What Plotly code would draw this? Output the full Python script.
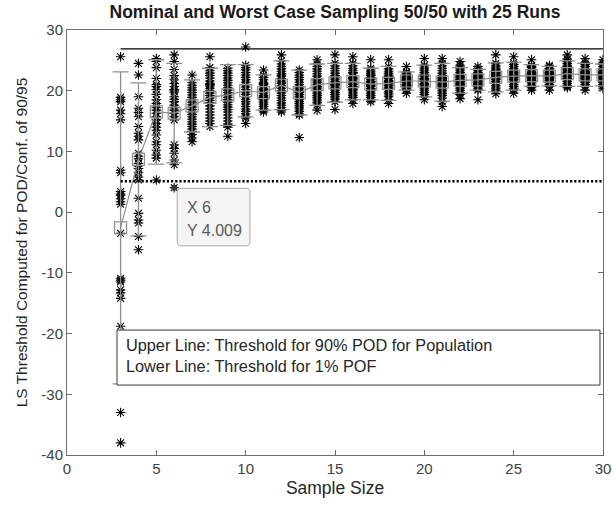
import plotly.graph_objects as go

# ---------------- data ----------------
sample_sizes = list(range(3, 31))

runs_n3 = [25.6, 18.9, 18.5, 18.2, 16.8, 16.2, 15.2, 6.9, 6.5, 3.4, 3.0, 2.8, 1.7, 1.3, -3.5,
           -10.9, -11.2, -11.5, -12.8, -13.3, -14.2, -18.8, -33.0, -38.0, 2.2]
runs_n4 = [24.5, 22.6, 19.0, 17.1, 15.7, 14.1, 13.0, 11.9, 9.7, 8.8, 8.0, 7.2, 6.5, 5.8, 5.3,
           2.3, -0.2, -1.3, -1.8, -4.0, -6.2, 7.6, 9.2, 12.5, 16.4]
runs_n5 = [25.3, 24.8, 21.0, 20.7, 20.2, 18.5, 17.9, 17.2, 16.3, 15.7, 15.2, 14.6, 13.5, 12.7,
           11.6, 11.1, 9.4, 8.9, 5.3, 19.4, 22.0, 23.8, 16.8, 14.0, 10.2]
runs_n6 = [25.9, 24.8, 21.8, 21.2, 20.7, 19.8, 19.0, 17.6, 16.8, 16.3, 15.7, 15.2, 11.1, 10.5,
           9.7, 8.6, 7.8, 4.009, 20.2, 18.2, 17.2, 22.5, 18.6, 20.0, 23.5]
runs_n7 = [22.6, 21.3, 20.9, 20.5, 20.1, 19.7, 19.3, 18.9, 18.5, 18.1, 17.7, 17.3, 16.9, 16.5,
           16.1, 15.7, 15.3, 14.9, 14.5, 14.1, 13.7, 13.3, 12.8, 11.6, 12.2]
runs_n8 = [25.6, 23.8, 23.3, 22.9, 22.5, 22.1, 21.6, 21.2, 20.8, 20.4, 20.0, 19.6, 19.2, 18.8,
           18.4, 18.0, 17.5, 17.0, 16.5, 16.0, 15.5, 15.0, 14.6, 14.1, 21.0]
runs_n9 = [23.7, 23.3, 22.9, 22.5, 22.1, 21.7, 21.3, 20.9, 20.5, 20.1, 19.7, 19.3, 18.9, 18.5,
           18.1, 17.7, 17.3, 16.9, 16.5, 16.0, 15.5, 15.0, 14.5, 14.0, 12.5]
runs_n10 = [27.2, 24.2, 23.8, 23.4, 23.0, 22.6, 22.2, 21.8, 21.4, 21.0, 20.6, 20.2, 19.8, 19.4,
            19.0, 18.6, 18.2, 17.8, 17.4, 17.0, 16.6, 16.2, 15.8, 15.5, 14.6]
runs_n11 = [23.4, 22.6, 22.2, 21.8, 21.4, 21.0, 20.7, 20.4, 20.1, 19.8, 19.5, 19.2, 18.9, 18.6,
            18.3, 18.0, 17.7, 17.4, 17.1, 16.8, 16.5, 19.0, 20.2, 21.2, 18.5]
runs_n12 = [25.9, 24.9, 24.4, 24.0, 23.6, 23.2, 22.8, 22.4, 22.0, 21.6, 21.2, 20.8, 20.4, 20.0,
            19.6, 19.2, 18.8, 18.4, 18.0, 17.6, 17.2, 16.8, 16.5, 21.4, 22.6]
runs_n13 = [23.4, 23.0, 22.6, 22.2, 21.8, 21.4, 21.0, 20.6, 20.3, 20.0, 19.7, 19.4, 19.1, 18.8,
            18.5, 18.2, 17.9, 17.6, 17.3, 17.0, 16.6, 16.2, 16.0, 12.3, 19.8]
runs_n14 = [25.1, 24.4, 24.0, 23.6, 23.2, 22.8, 22.4, 22.0, 21.6, 21.3, 21.0, 20.7, 20.4, 20.1,
            19.8, 19.5, 19.2, 18.9, 18.6, 18.3, 18.0, 17.6, 16.8, 21.8, 20.6]
runs_n15 = [25.9, 24.5, 24.1, 23.7, 23.3, 22.9, 22.5, 22.1, 21.8, 21.5, 21.2, 20.9, 20.6, 20.3,
            20.0, 19.7, 19.4, 19.1, 18.8, 18.5, 18.2, 16.9, 21.0, 22.3, 20.4]
runs_n16 = [25.6, 24.5, 24.1, 23.7, 23.3, 22.9, 22.5, 22.2, 21.9, 21.6, 21.3, 21.0, 20.7, 20.4,
            20.1, 19.8, 19.5, 19.2, 18.9, 18.5, 17.9, 22.0, 21.1, 20.2, 23.0]
runs_n17 = [25.1, 23.7, 23.4, 23.1, 22.8, 22.5, 22.2, 21.9, 21.6, 21.3, 21.0, 20.7, 20.4, 20.1,
            19.8, 19.5, 19.2, 18.9, 18.5, 18.2, 21.5, 22.0, 20.9, 20.3, 22.6]
runs_n18 = [25.1, 24.0, 23.6, 23.2, 22.9, 22.6, 22.3, 22.0, 21.7, 21.4, 21.1, 20.8, 20.5, 20.2,
            19.9, 19.6, 19.3, 19.0, 18.5, 17.9, 21.5, 20.9, 22.4, 21.2, 20.4]
runs_n19 = [24.0, 23.1, 22.9, 22.7, 22.5, 22.3, 22.1, 21.9, 21.7, 21.5, 21.3, 21.1, 20.9, 20.7,
            20.5, 20.3, 20.1, 19.6, 21.8, 22.0, 21.6, 21.4, 22.2, 21.0, 20.8]
runs_n20 = [25.3, 24.2, 23.9, 23.6, 23.3, 23.0, 22.7, 22.4, 22.1, 21.8, 21.5, 21.2, 20.9, 20.6,
            20.3, 20.0, 19.7, 19.4, 19.0, 18.5, 22.0, 21.6, 22.5, 21.0, 21.9]
runs_n21 = [25.3, 24.5, 24.1, 23.7, 23.3, 22.9, 22.5, 22.2, 21.9, 21.6, 21.3, 21.0, 20.7, 20.4,
            20.1, 19.8, 19.5, 19.2, 18.8, 18.2, 17.4, 21.7, 21.2, 22.0, 20.9]
runs_n22 = [24.8, 24.2, 23.9, 23.6, 23.3, 23.0, 22.7, 22.4, 22.1, 21.8, 21.5, 21.2, 20.9, 20.6,
            20.3, 20.0, 19.7, 19.4, 18.7, 21.9, 22.2, 21.4, 22.6, 21.0, 21.7]
runs_n23 = [24.0, 23.6, 23.3, 23.0, 22.7, 22.4, 22.1, 21.8, 21.5, 21.2, 20.9, 20.6, 20.3, 20.1,
            18.5, 22.0, 22.3, 21.9, 21.6, 22.5, 21.3, 22.8, 21.0, 20.7, 22.2]
runs_n24 = [25.9, 24.5, 24.2, 23.9, 23.6, 23.3, 23.0, 22.7, 22.4, 22.1, 21.8, 21.5, 21.2, 20.9,
            20.6, 20.3, 20.0, 19.5, 22.6, 23.1, 22.2, 22.9, 21.9, 23.4, 22.5]
runs_n25 = [25.6, 24.6, 24.3, 24.0, 23.7, 23.4, 23.1, 22.8, 22.5, 22.2, 21.9, 21.6, 21.3, 21.0,
            20.7, 20.4, 20.1, 19.6, 22.7, 23.0, 22.4, 23.3, 22.1, 21.8, 22.6]
runs_n26 = [25.1, 24.2, 24.0, 23.8, 23.5, 23.2, 22.9, 22.6, 22.3, 22.0, 21.7, 21.4, 21.1, 20.8,
            20.5, 20.1, 22.8, 22.5, 23.0, 22.2, 23.4, 21.9, 22.7, 21.6, 22.4]
runs_n27 = [24.2, 24.0, 23.7, 23.4, 23.1, 22.8, 22.5, 22.2, 21.9, 21.6, 21.3, 21.0, 20.7, 20.1,
            22.6, 22.3, 23.0, 22.9, 22.0, 23.3, 21.7, 22.4, 22.7, 21.4, 23.6]
runs_n28 = [25.9, 25.2, 24.8, 24.5, 24.2, 23.9, 23.6, 23.3, 23.0, 22.7, 22.4, 22.1, 21.8, 21.5,
            21.2, 20.9, 20.7, 20.5, 22.9, 23.2, 22.6, 23.5, 22.3, 24.0, 22.0]
runs_n29 = [25.3, 24.6, 24.3, 24.0, 23.7, 23.4, 23.1, 22.8, 22.5, 22.2, 21.9, 21.6, 21.3, 21.0,
            20.7, 20.1, 22.9, 23.2, 22.6, 23.5, 22.3, 22.0, 23.0, 22.7, 21.5]
runs_n30 = [25.1, 24.6, 24.3, 24.0, 23.7, 23.4, 23.1, 22.8, 22.5, 22.2, 21.9, 21.6, 21.3, 21.0,
            20.7, 20.4, 22.9, 23.2, 22.6, 23.5, 22.3, 22.0, 23.0, 22.7, 21.5]

all_runs = [runs_n3, runs_n4, runs_n5, runs_n6, runs_n7, runs_n8, runs_n9, runs_n10, runs_n11,
            runs_n12, runs_n13, runs_n14, runs_n15, runs_n16, runs_n17, runs_n18, runs_n19,
            runs_n20, runs_n21, runs_n22, runs_n23, runs_n24, runs_n25, runs_n26, runs_n27,
            runs_n28, runs_n29, runs_n30]

mean_values = [-2.6, 8.7, 16.5, 16.3, 17.5, 18.9, 19.3, 20.0, 19.7, 20.9, 19.7, 21.0, 21.3, 21.5,
               21.1, 21.2, 21.6, 21.6, 21.4, 21.7, 21.8, 22.2, 22.4, 22.5, 22.4, 22.8, 22.6, 22.6]
std_values = [25.7, 12.6, 8.6, 8.2, 4.3, 4.8, 5.0, 4.3, 2.9, 4.0, 3.7, 3.4, 3.2, 3.0,
              2.6, 2.8, 1.5, 2.6, 3.1, 2.1, 1.7, 2.4, 2.3, 1.8, 1.6, 2.1, 1.9, 1.8]

upper_threshold = 26.9   # 90% POD for population
lower_threshold = 5.1    # 1% POF
datatip_x, datatip_y = 6, 4.009

x_ticks = [0, 5, 10, 15, 20, 25, 30]
y_ticks = [-40, -30, -20, -10, 0, 10, 20, 30]

# ---------------- figure ----------------
FONT = "Liberation Sans, Arial, Helvetica, sans-serif"
GRAY = "#8f8f8f"
AX = "#6e6e6e"

pts_x, pts_y = [], []
for n, vals in zip(sample_sizes, all_runs):
    pts_x += [n] * len(vals)
    pts_y += vals

fig = go.Figure()

fig.add_trace(go.Scatter(
    x=pts_x, y=pts_y, mode="markers",
    marker=dict(symbol="asterisk-open", size=8, color="black",
                line=dict(color="black", width=1.1)),
    showlegend=False, hoverinfo="skip"))

fig.add_trace(go.Scatter(
    x=sample_sizes, y=mean_values, mode="lines+markers",
    line=dict(color=GRAY, width=1.2),
    marker=dict(symbol="square-open", size=12, color=GRAY, line=dict(color=GRAY, width=1.2)),
    error_y=dict(type="data", array=std_values, visible=True, color=GRAY, thickness=1.3, width=8),
    showlegend=False, hoverinfo="skip"))

fig.add_trace(go.Scatter(
    x=[sample_sizes[0], sample_sizes[-1]], y=[upper_threshold, upper_threshold],
    mode="lines", line=dict(color="black", width=1.2), showlegend=False, hoverinfo="skip"))

fig.add_trace(go.Scatter(
    x=[sample_sizes[0], sample_sizes[-1]], y=[lower_threshold, lower_threshold],
    mode="lines", line=dict(color="black", width=2.6, dash="2.2px,2px"),
    showlegend=False, hoverinfo="skip"))

fig.add_trace(go.Scatter(
    x=[datatip_x], y=[datatip_y], mode="markers",
    marker=dict(symbol="circle", size=6, color="#333333"),
    showlegend=False, hoverinfo="skip"))

# data tip box (rounded rectangle)
x0, x1, y0, y1 = 6.17, 10.24, -5.55, 3.92
rx, ry = 0.22, 0.66
path = (f"M {x0+rx},{y1} L {x1-rx},{y1} Q {x1},{y1} {x1},{y1-ry} "
        f"L {x1},{y0+ry} Q {x1},{y0} {x1-rx},{y0} L {x0+rx},{y0} Q {x0},{y0} {x0},{y0+ry} "
        f"L {x0},{y1-ry} Q {x0},{y1} {x0+rx},{y1} Z")
fig.add_shape(type="path", path=path, xref="x", yref="y",
              line=dict(color="#a8a8a8", width=1), fillcolor="#f5f5f5", layer="above")

fig.add_annotation(x=6.6, y=0.8, xref="x", yref="y", text=f"X {datatip_x}",
                   showarrow=False, xanchor="left", yanchor="middle",
                   font=dict(family=FONT, size=16, color="#5a5a5a"))
fig.add_annotation(x=6.6, y=-2.95, xref="x", yref="y", text=f"Y {datatip_y}",
                   showarrow=False, xanchor="left", yanchor="middle",
                   font=dict(family=FONT, size=16, color="#5a5a5a"))

# explanatory text box
fig.add_shape(type="rect", x0=2.80, x1=29.83, y0=-28.48, y1=-19.42, xref="x", yref="y",
              line=dict(color="#3a3a3a", width=1), fillcolor="white", layer="above")
fig.add_annotation(x=3.2, y=-21.9, xref="x", yref="y",
                   text="Upper Line: Threshold for 90% POD for Population",
                   showarrow=False, xanchor="left", yanchor="middle",
                   font=dict(family=FONT, size=16.3, color="#262626"))
fig.add_annotation(x=3.2, y=-25.4, xref="x", yref="y",
                   text="Lower Line: Threshold for 1% POF",
                   showarrow=False, xanchor="left", yanchor="middle",
                   font=dict(family=FONT, size=16.3, color="#262626"))

axis_common = dict(showgrid=False, zeroline=False, showline=True, linecolor=AX, linewidth=1,
                   mirror="ticks", ticks="inside", ticklen=5, tickcolor=AX, tickwidth=1,
                   automargin=False,
                   tickfont=dict(family=FONT, size=15, color="#404040"))

fig.update_layout(
    width=613, height=507,
    margin=dict(l=67, r=10, t=30, b=52),
    paper_bgcolor="white", plot_bgcolor="white",
    title=dict(text="<b>Nominal and Worst Case Sampling 50/50 with 25 Runs</b>",
               x=0.5, xref="paper", y=1 - 12 / 507, yref="container", yanchor="middle",
               font=dict(family=FONT, size=17.5, color="#1a1a1a")),
    xaxis=dict(range=[0, 30], tickvals=x_ticks, ticktext=[str(v) for v in x_ticks],
               title=dict(text="Sample Size", font=dict(family=FONT, size=17.5, color="#262626"),
                          standoff=5),
               **axis_common),
    yaxis=dict(range=[-40, 30], tickvals=y_ticks, ticktext=[str(v) for v in y_ticks],
               title=dict(text="LS Threshold Computed for POD/Conf. of 90/95",
                          font=dict(family=FONT, size=15.5, color="#262626"), standoff=9),
               **axis_common),
)

fig.write_html("out.html", config={"displayModeBar": False},
               post_script="document.body.style.margin='0px';document.body.style.padding='0px';")
